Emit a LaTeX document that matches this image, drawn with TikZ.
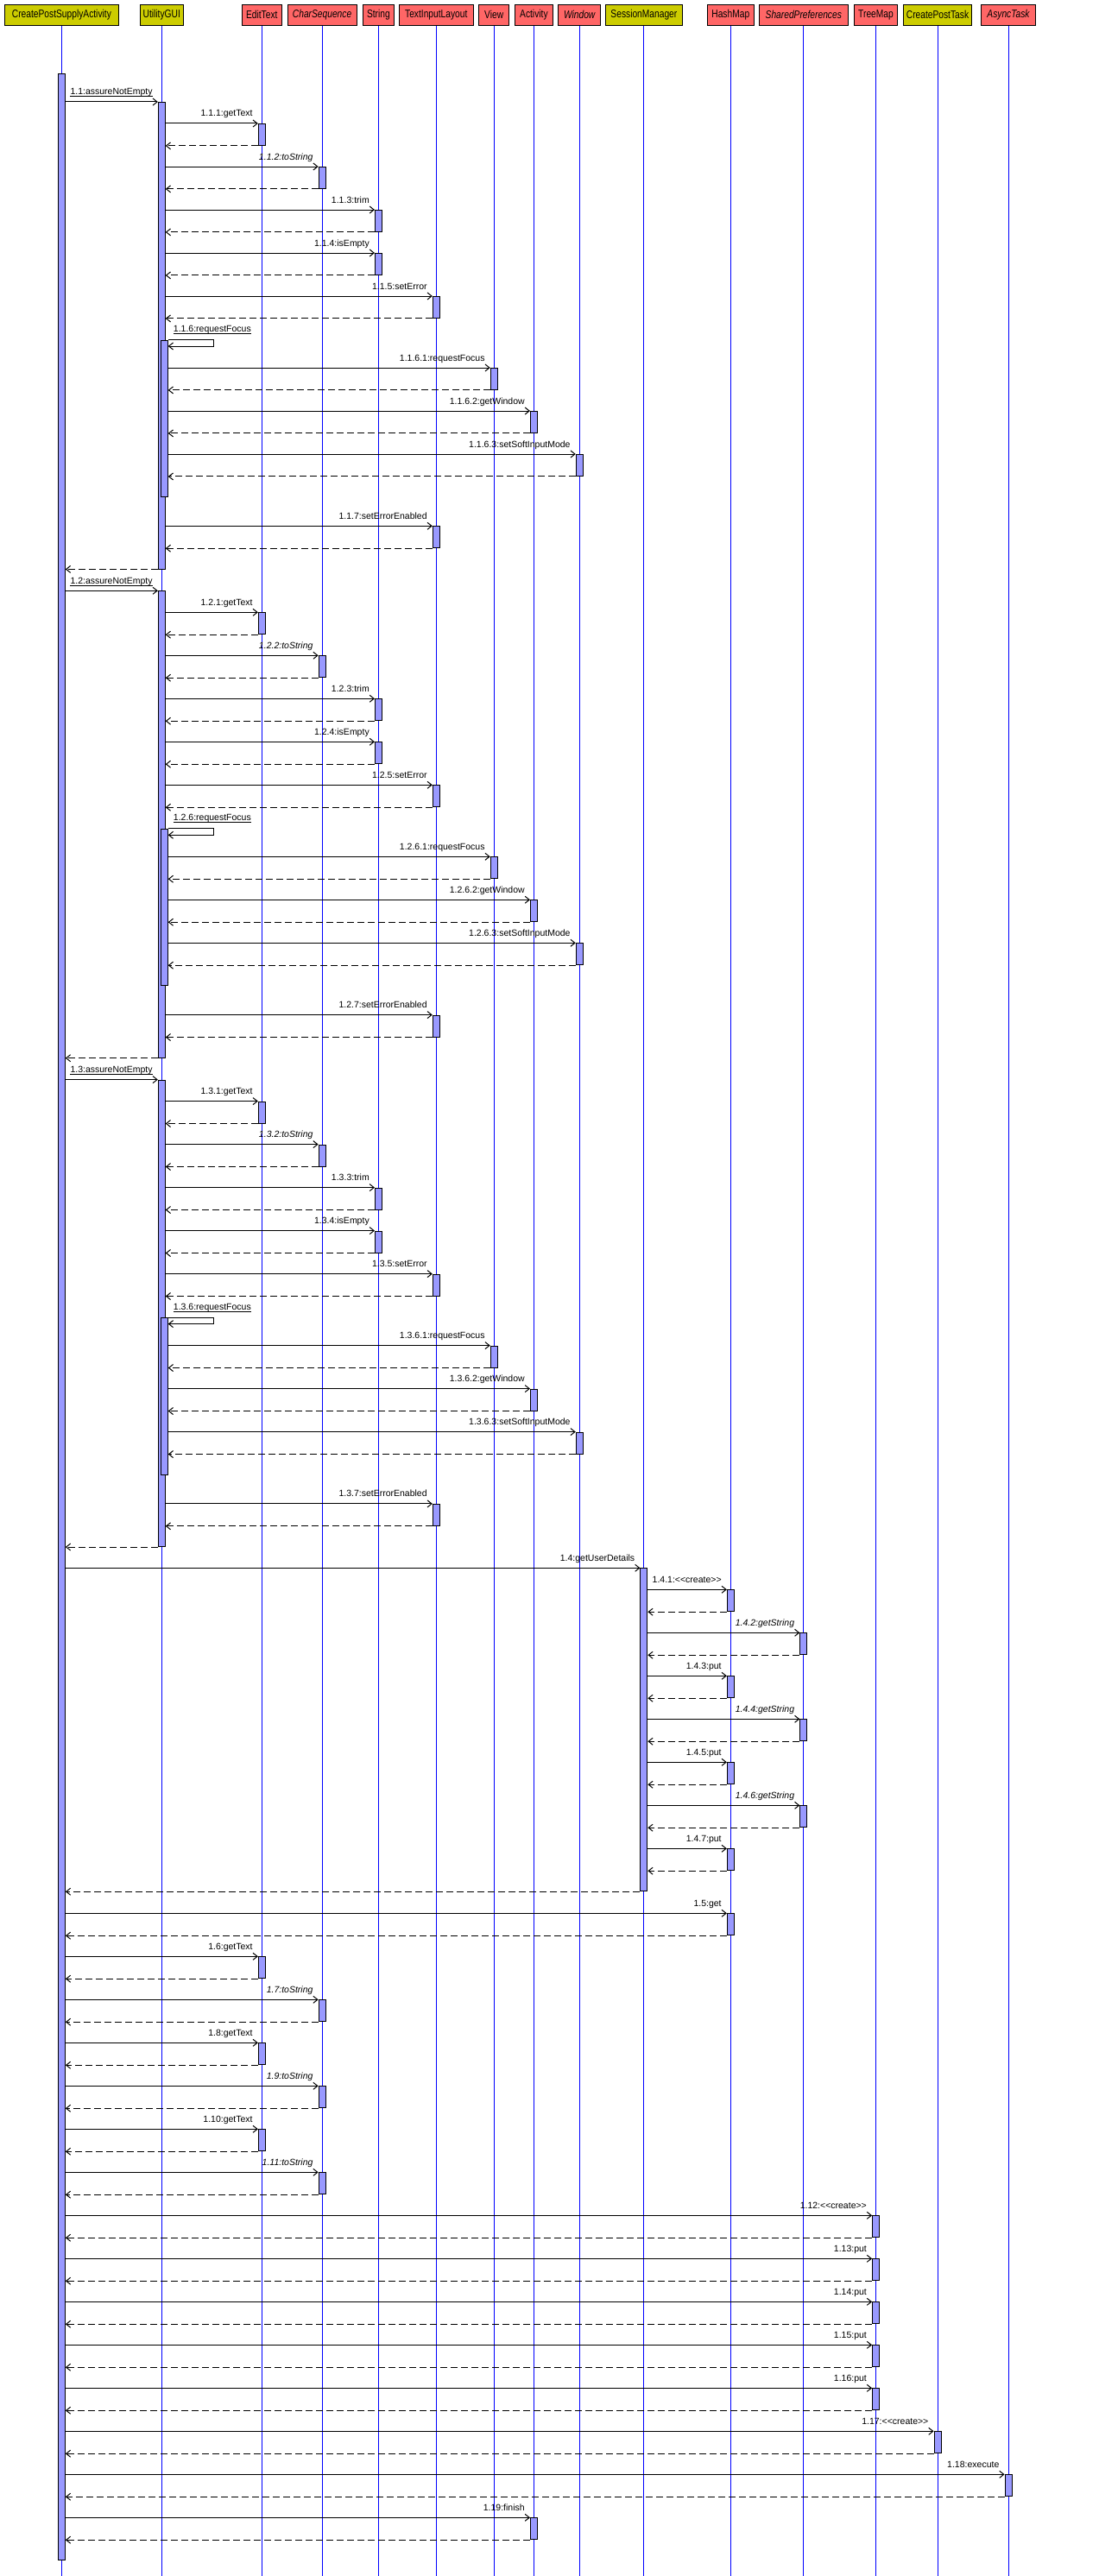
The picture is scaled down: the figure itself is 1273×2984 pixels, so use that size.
\documentclass[tikz,border=0pt]{standalone}
\usepackage{fontspec}
\setmainfont{Liberation Sans}
\newfontfamily\hdrfont{Liberation Sans}[FakeStretch=0.8]
\newfontfamily\hdrifont{Liberation Sans Italic}[FakeStretch=0.8]
\usetikzlibrary{arrows.meta}

\definecolor{hdrred}{RGB}{255,102,102}
\definecolor{hdryellow}{RGB}{204,204,0}
\definecolor{barblue}{RGB}{153,153,255}

\tikzset{
  hdr/.style={draw, line width=1pt, inner sep=0pt, minimum height=24.3,
    font=\hdrfont\fontsize{12.8}{14}\selectfont},
  life/.style={blue, line width=0.9pt},
  actbar/.style={draw, fill=barblue, line width=0.9pt, minimum width=8,
    inner sep=0pt, anchor=north},
  msg/.style={-{Straight Barb[length=5pt,width=8pt]}, line width=1pt},
  ret/.style={msg, dash pattern=on 8pt off 4pt},
  lbl/.style={inner sep=0pt, font=\fontsize{10.5}{12}\selectfont, anchor=base east},
}

\newcommand{\stereo}[1]{<\kern0pt<#1>\kern0pt>}
% call from a bar to a lifeline and back: bar name, caller bar, callee head, y, label
\newcommand{\callto}[5]{%
  \node[actbar, minimum height=25] (#1) at (#3 |- 0,#4) {};
  \draw[msg] (#2.east |- #1.north) -- (#1.north west);
  \draw[ret] (#1.south west) -- (#2.east |- #1.south);
  \node[lbl] (#1-l) at ([xshift=-6pt,yshift=8pt]#1.north west) {#5};}

\begin{document}
\begin{tikzpicture}[x=1pt, y=-1pt]
\useasboundingbox (0,0) rectangle (1273,2984);

% heads and lifelines
\foreach \n/\x/\w/\t/\c in {
  cpsa/71.4/131.4/CreatePostSupplyActivity/hdryellow,
  ugui/187.3/50.6/UtilityGUI/hdryellow,
  edit/303.3/46.5/EditText/hdrred,
  chseq/373.1/80/{\hdrifont CharSequence}/hdrred,
  str/438.4/36.7/String/hdrred,
  til/505.3/85.4/TextInputLayout/hdrred,
  view/572.2/34.7/View/hdrred,
  act/618.4/44.5/Activity/hdrred,
  win/671.2/48.6/{\hdrifont Window}/hdrred,
  sess/745.9/89.4/SessionManager/hdryellow,
  hmap/846.3/53.9/HashMap/hdrred,
  spref/930.8/103.3/{\hdrifont SharedPreferences}/hdrred,
  tmap/1014.5/50.6/TreeMap/hdrred,
  cptask/1086/78.8/CreatePostTask/hdryellow,
  async/1168/63.7/{\hdrifont AsyncTask}/hdrred}{
  \node[hdr, fill=\c, minimum width=\w] (\n) at (\x,17.2) {\t};
  \draw[life] (\n.south) -- (\x,2984);
}

\node[actbar, minimum height=2880] (abar) at (cpsa |- 0,85) {};

% the three assureNotEmpty blocks
\foreach \k/\y in {1/118,2/684.3,3/1250.6}{
\begin{scope}[shift={(0,\y)}]
  \node[actbar, minimum height=540.5] (u\k) at (ugui |- 0,0) {};
  \draw[msg] (abar.east |- u\k.north) -- (u\k.north west);
  \node[lbl] (u\k-l) at ([xshift=-6pt,yshift=8pt]u\k.north west) {1.\k:assureNotEmpty};
  \draw ([yshift=-1.5pt]u\k-l.base west) -- ([yshift=-1.5pt]u\k-l.base east);
  \callto{e\k}{u\k}{edit}{25}{1.\k.1:getText}
  \callto{c\k}{u\k}{chseq}{75}{\textit{1.\k.2:toString}}
  \callto{s\k}{u\k}{str}{125}{1.\k.3:trim}
  \callto{i\k}{u\k}{str}{175}{1.\k.4:isEmpty}
  \callto{t\k}{u\k}{til}{225}{1.\k.5:setError}
  % self call
  \node[actbar, minimum height=181.4, xshift=3pt] (n\k) at (ugui |- 0,275.6) {};
  \draw[msg] (n\k.north east) -- ++(53,0) -- ++(0,7.4) -- (n\k.east |- 0,283);
  \node[lbl, anchor=base west] (n\k-l) at ([xshift=6pt,yshift=9pt]n\k.north east) {1.\k.6:requestFocus};
  \draw ([yshift=-1.5pt]n\k-l.base west) -- ([yshift=-1.5pt]n\k-l.base east);
  \callto{v\k}{n\k}{view}{308}{1.\k.6.1:requestFocus}
  \callto{a\k}{n\k}{act}{358}{1.\k.6.2:getWindow}
  \callto{w\k}{n\k}{win}{408}{1.\k.6.3:setSoftInputMode}
  \callto{x\k}{u\k}{til}{491.3}{1.\k.7:setErrorEnabled}
  \draw[ret] (u\k.south west) -- (abar.east |- u\k.south);
\end{scope}}

% getUserDetails
\node[actbar, minimum height=374] (sbar) at (sess |- 0,1816.3) {};
\draw[msg] (abar.east |- sbar.north) -- (sbar.north west);
\node[lbl] (sbar-l) at ([xshift=-6pt,yshift=8pt]sbar.north west) {1.4:getUserDetails};
\callto{h41}{sbar}{hmap}{1841.3}{1.4.1:\stereo{create}}
\callto{h42}{sbar}{spref}{1891.3}{\textit{1.4.2:getString}}
\callto{h43}{sbar}{hmap}{1941.3}{1.4.3:put}
\callto{h44}{sbar}{spref}{1991.3}{\textit{1.4.4:getString}}
\callto{h45}{sbar}{hmap}{2041.3}{1.4.5:put}
\callto{h46}{sbar}{spref}{2091.3}{\textit{1.4.6:getString}}
\callto{h47}{sbar}{hmap}{2141.3}{1.4.7:put}
\draw[ret] (sbar.south west) -- (abar.east |- sbar.south);

% the rest, straight from the activity
\callto{m5}{abar}{hmap}{2216.3}{1.5:get}
\callto{m6}{abar}{edit}{2266.3}{1.6:getText}
\callto{m7}{abar}{chseq}{2316.3}{\textit{1.7:toString}}
\callto{m8}{abar}{edit}{2366.3}{1.8:getText}
\callto{m9}{abar}{chseq}{2416.3}{\textit{1.9:toString}}
\callto{m10}{abar}{edit}{2466.3}{1.10:getText}
\callto{m11}{abar}{chseq}{2516.3}{\textit{1.11:toString}}
\callto{m12}{abar}{tmap}{2566.3}{1.12:\stereo{create}}
\callto{m13}{abar}{tmap}{2616.3}{1.13:put}
\callto{m14}{abar}{tmap}{2666.3}{1.14:put}
\callto{m15}{abar}{tmap}{2716.3}{1.15:put}
\callto{m16}{abar}{tmap}{2766.3}{1.16:put}
\callto{m17}{abar}{cptask}{2816.3}{1.17:\stereo{create}}
\callto{m18}{abar}{async}{2866.3}{1.18:execute}
\callto{m19}{abar}{act}{2916.3}{1.19:finish}
\end{tikzpicture}
\end{document}
